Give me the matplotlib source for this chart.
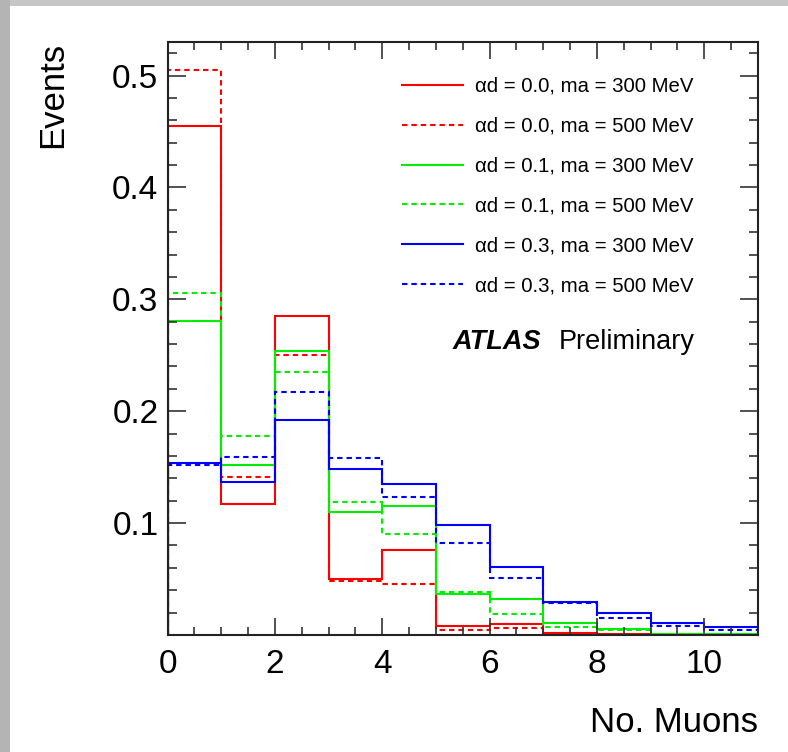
import numpy as np
import matplotlib
matplotlib.use("Agg")
import matplotlib.pyplot as plt
from matplotlib.ticker import MultipleLocator, FixedLocator
from matplotlib.patches import Rectangle

plt.rcParams['font.family'] = ['Liberation Sans', 'DejaVu Sans']

# ---- data ----
bin_edges = [0, 1, 2, 3, 4, 5, 6, 7, 8, 9, 10, 11]
labels = [
    "\u03b1d = 0.0, ma = 300 MeV",
    "\u03b1d = 0.0, ma = 500 MeV",
    "\u03b1d = 0.1, ma = 300 MeV",
    "\u03b1d = 0.1, ma = 500 MeV",
    "\u03b1d = 0.3, ma = 300 MeV",
    "\u03b1d = 0.3, ma = 500 MeV",
]
red_300   = [0.455, 0.117, 0.285, 0.050, 0.076, 0.008, 0.010, 0.002, 0.0005, 0.0002, 0.0001]
red_500   = [0.505, 0.141, 0.250, 0.048, 0.046, 0.0045, 0.006, 0.001, 0.0004, 0.0001, 0.0001]
green_300 = [0.281, 0.152, 0.254, 0.110, 0.115, 0.037, 0.032, 0.011, 0.005, 0.001, 0.0005]
green_500 = [0.306, 0.178, 0.235, 0.119, 0.090, 0.038, 0.019, 0.0075, 0.0045, 0.001, 0.0005]
blue_300  = [0.154, 0.137, 0.192, 0.148, 0.135, 0.098, 0.061, 0.0295, 0.020, 0.0105, 0.0075]
blue_500  = [0.152, 0.159, 0.217, 0.158, 0.123, 0.082, 0.051, 0.029, 0.015, 0.0083, 0.0045]

series = [red_300, red_500, green_300, green_500, blue_300, blue_500]
colors = ['#ff0000', '#ff0000', '#00ee00', '#00ee00', '#0000ff', '#0000ff']
solid = '-'
dashed = (0, (2.6, 1.9))
styles = [solid, dashed, solid, dashed, solid, dashed]

x_major = [0, 2, 4, 6, 8, 10]
y_major = [0.1, 0.2, 0.3, 0.4, 0.5]
y_major_labels = ['0.1', '0.2', '0.3', '0.4', '0.5']

# ---- figure ----
W, H = 788, 752
fig = plt.figure(figsize=(W / 100, H / 100), dpi=100)
fig.patch.set_facecolor('white')
fig.patches.append(Rectangle((0, 1 - 6 / H), 1, 6 / H, transform=fig.transFigure,
                             facecolor='#c6c6c6', edgecolor='none', zorder=0))
fig.patches.append(Rectangle((0, 0), 10 / W, 1, transform=fig.transFigure,
                             facecolor='#b4b4b4', edgecolor='none', zorder=0))

L, R, T, B = 167.5, 758, 42, 635
ax = fig.add_axes([L / W, 1 - B / H, (R - L) / W, (B - T) / H])

handles = []
for vals, c, ls, lab in zip(series, colors, styles, labels):
    ax.stairs(vals, bin_edges, baseline=0, color=c, linestyle=ls, linewidth=1.5)
    ln, = ax.plot([], [], color=c, linestyle=ls, linewidth=1.5, label=lab)
    handles.append(ln)

ax.set_xlim(0, 11)
ax.set_ylim(0, 0.53)

ax.xaxis.set_major_locator(FixedLocator(x_major))
ax.xaxis.set_minor_locator(MultipleLocator(0.5))
ax.yaxis.set_major_locator(FixedLocator(y_major))
ax.set_yticklabels(y_major_labels)
ax.yaxis.set_minor_locator(MultipleLocator(0.02))

ax.tick_params(axis='both', which='both', direction='in', top=True, right=True,
               color='#333333', width=1.2)
ax.tick_params(axis='x', which='major', length=12, pad=10, labelsize=24)
ax.tick_params(axis='x', which='minor', length=6)
ax.tick_params(axis='y', which='major', length=13, pad=6.5, labelsize=24)
ax.tick_params(axis='y', which='minor', length=6.5)
for sp in ax.spines.values():
    sp.set_linewidth(1.5)
    sp.set_color('#222222')

fig.text(53 / W, 1 - 42 / H, 'Events', rotation=90, ha='center', va='top', fontsize=25)
fig.text(758 / W, 1 - 732 / H, 'No. Muons', ha='right', va='baseline', fontsize=25)

leg = ax.legend(handles=handles, loc='upper left',
                bbox_to_anchor=((402 - L) / (R - L), (B - 77) / (B - T)),
                frameon=False, fontsize=14.7, handlelength=3.0, handletextpad=0.59,
                labelspacing=1.02, borderpad=0, borderaxespad=0)

fig.text(695 / W, 1 - 348.5 / H, 'Preliminary', ha='right', va='baseline', fontsize=19.5)
fig.text(453 / W, 1 - 348.5 / H, 'ATLAS', ha='left', va='baseline', fontsize=19.5,
         fontweight='bold', fontstyle='italic')

fig.savefig('out.png', dpi=100)
